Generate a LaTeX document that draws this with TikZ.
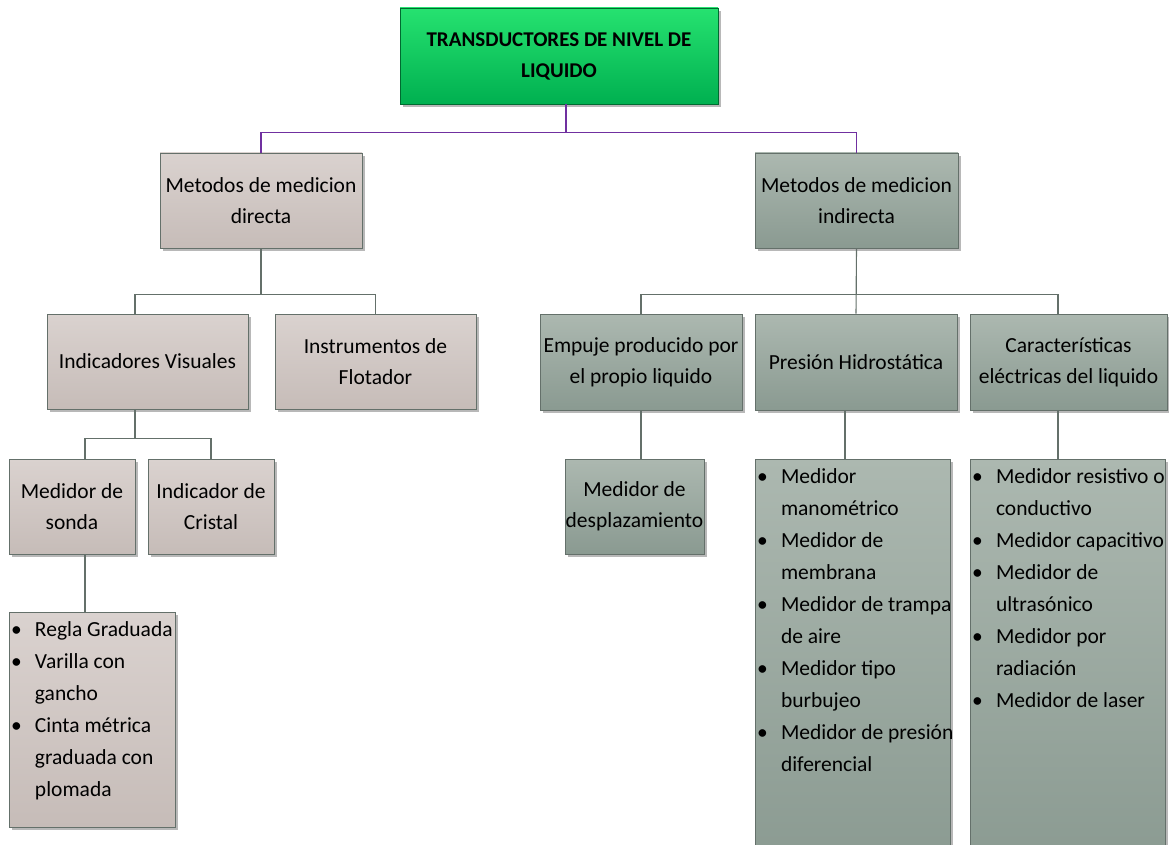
\documentclass[tikz,border=0pt]{standalone}
\usepackage{fontspec}
\setmainfont{Carlito}
\usetikzlibrary{shadows}
\definecolor{verdeA}{RGB}{38,226,112}
\definecolor{verdeB}{RGB}{0,176,80}
\definecolor{rosaA}{RGB}{218,210,207}
\definecolor{rosaB}{RGB}{198,188,184}
\definecolor{grisA}{RGB}{172,184,176}
\definecolor{grisB}{RGB}{138,154,145}
\definecolor{borde}{RGB}{100,112,106}
\definecolor{morado}{RGB}{112,48,160}
\tikzset{x=1pt, y=1pt,
  caja/.style={draw=borde, line width=0.8pt, align=center, inner sep=0pt,
      font=\fontsize{21.5}{31}\selectfont,
      drop shadow={shadow xshift=3pt, shadow yshift=-3pt, fill=black!28, opacity=1}},
  directa/.style={caja, top color=rosaA, bottom color=rosaB},
  indirecta/.style={caja, top color=grisA, bottom color=grisB},
  raiz/.style={caja, draw=verdeB!60!black, top color=verdeA, bottom color=verdeB,
      font=\bfseries\fontsize{21}{31}\selectfont},
  lista/.style={anchor=north, inner sep=2pt, align=left},
  enlace/.style={draw=borde, line width=1.1pt},
  enlace raiz/.style={draw=morado, line width=1.1pt}
}
% lista con vinetas: alto, ancho, filas
\def\Lista#1#2#3{\parbox[c][#1][t]{#2}{\fontsize{21.5}{32}\selectfont
  \begin{tabular}{@{}p{24pt}@{}l@{}}#3\end{tabular}}}

\begin{document}
\begin{tikzpicture}
\useasboundingbox (0,0) rectangle (1169,-845);

\node[raiz, minimum width=318, minimum height=96] (raiz) at (559,-56)
  {TRANSDUCTORES DE NIVEL DE\\LIQUIDO};

\node[directa, minimum width=202, minimum height=95] (dir) at (261,-200.5)
  {Metodos de medicion\\directa};
\node[indirecta, minimum width=203, minimum height=95] (ind) at (856.5,-200.5)
  {Metodos de medicion\\indirecta};

% rama directa
\node[directa, minimum width=201, minimum height=95] (vis) at (147.5,-361.5)
  {Indicadores Visuales};
\node[directa, minimum width=201, minimum height=95] (flo) at (375.5,-361.5)
  {Instrumentos de\\Flotador};
\node[directa, minimum width=126, minimum height=95] (son) at (72,-506.5)
  {Medidor de\\sonda};
\node[directa, minimum width=126, minimum height=95] (cri) at (211,-506.5)
  {Indicador de\\Cristal};
\node[directa, lista, minimum width=166, minimum height=215] (regla) at (92,-612)
  {\Lista{211pt}{162pt}{\textbullet & Regla Graduada\\
    \textbullet & Varilla con\\ & gancho\\
    \textbullet & Cinta métrica\\ & graduada con\\ & plomada}};

% rama indirecta
\node[indirecta, minimum width=202, minimum height=96] (emp) at (641,-362)
  {Empuje producido por\\el propio liquido};
\node[indirecta, minimum width=202, minimum height=96] (pre) at (856,-362)
  {Presión Hidrostática};
\node[indirecta, minimum width=197, minimum height=96] (car) at (1068.5,-362)
  {Características\\eléctricas del liquido};
\node[indirecta, minimum width=139, minimum height=95] (des) at (634.5,-506.5)
  {Medidor de\\desplazamiento};
\node[indirecta, lista, minimum width=195, minimum height=410] (plist) at (852.5,-459)
  {\Lista{406pt}{191pt}{\textbullet & Medidor\\ & manométrico\\
    \textbullet & Medidor de\\ & membrana\\
    \textbullet & Medidor de trampa\\ & de aire\\
    \textbullet & Medidor tipo\\ & burbujeo\\
    \textbullet & Medidor de presión\\ & diferencial}};
\node[indirecta, lista, minimum width=195, minimum height=410] (clist) at (1067.5,-459)
  {\Lista{406pt}{191pt}{\textbullet & Medidor resistivo o\\ & conductivo\\
    \textbullet & Medidor capacitivo\\
    \textbullet & Medidor de\\ & ultrasónico\\
    \textbullet & Medidor por\\ & radiación\\
    \textbullet & Medidor de laser}};

% conectores
\draw[enlace raiz] ([xshift=7]raiz.south) -- ++(0,-28) -| (dir.north);
\draw[enlace raiz] ([xshift=7]raiz.south) -- ++(0,-28) -| (ind.north);

\draw[enlace] (dir.south) -- ++(0,-46) -| ([xshift=-12.5]vis.north);
\draw[enlace] (dir.south) -- ++(0,-46) -| (flo.north);
\draw[enlace] ([xshift=-12.5]vis.south) -- ++(0,-29) -| ([xshift=13]son.north);
\draw[enlace] ([xshift=-12.5]vis.south) -- ++(0,-29) -| (cri.north);
\draw[enlace] ([xshift=13]son.south) -- ([xshift=13]son.south |- regla.north);

\draw[enlace] (ind.south) -- ++(0,-46) -| (emp.north);
\draw[enlace] (ind.south) -- (pre.north);
\draw[enlace] (ind.south) -- ++(0,-46) -| ([xshift=-10.5]car.north);
\draw[enlace] ([xshift=6.5]des.north |- emp.south) -- ([xshift=6.5]des.north);
\draw[enlace] ([xshift=-11]pre.south) -- ([xshift=-11]pre.south |- plist.north);
\draw[enlace] ([xshift=-10.5]car.south) -- ([xshift=-10.5]car.south |- clist.north);
\end{tikzpicture}
\end{document}
